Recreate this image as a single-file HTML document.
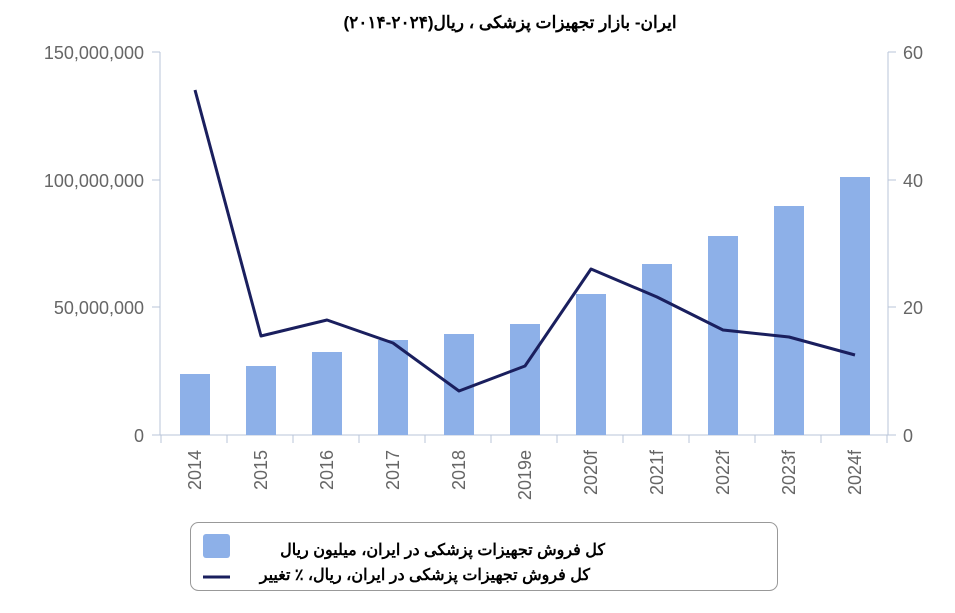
<!DOCTYPE html>
<html><head><meta charset="utf-8"><style>
body{margin:0;background:#fff;width:955px;height:613px;overflow:hidden}
svg{display:block}
</style></head><body>
<svg width="955" height="613" xmlns="http://www.w3.org/2000/svg" font-family="Liberation Sans, DejaVu Sans, sans-serif">
<text x="510" y="28" text-anchor="middle" font-size="17" font-weight="bold" font-family="Liberation Sans, Noto Sans CJK SC, sans-serif" fill="#000">ایران- بازار تجهیزات پزشکی ، ریال(۲۰۲۴-۲۰۱۴)</text>
<g stroke="#b8c4d8" stroke-width="1">
<line x1="160" y1="52" x2="160" y2="435"/>
<line x1="888" y1="52" x2="888" y2="435"/>
<line x1="152" y1="52" x2="160" y2="52"/>
<line x1="152" y1="180" x2="160" y2="180"/>
<line x1="152" y1="307" x2="160" y2="307"/>
<line x1="152" y1="435" x2="888" y2="435"/>
<line x1="888" y1="52" x2="896" y2="52"/>
<line x1="888" y1="180" x2="896" y2="180"/>
<line x1="888" y1="307" x2="896" y2="307"/>
<line x1="888" y1="435" x2="896" y2="435"/>
<line x1="161" y1="435" x2="161" y2="443"/><line x1="227" y1="435" x2="227" y2="443"/><line x1="293" y1="435" x2="293" y2="443"/><line x1="359" y1="435" x2="359" y2="443"/><line x1="425" y1="435" x2="425" y2="443"/><line x1="491" y1="435" x2="491" y2="443"/><line x1="557" y1="435" x2="557" y2="443"/><line x1="623" y1="435" x2="623" y2="443"/><line x1="689" y1="435" x2="689" y2="443"/><line x1="755" y1="435" x2="755" y2="443"/><line x1="821" y1="435" x2="821" y2="443"/><line x1="887" y1="435" x2="887" y2="443"/>
</g>
<g font-size="18" fill="#666" text-anchor="end">
<text x="144" y="59">150,000,000</text>
<text x="144" y="187">100,000,000</text>
<text x="144" y="314">50,000,000</text>
<text x="144" y="442">0</text>
</g>
<g font-size="18" fill="#666">
<text x="903" y="59">60</text>
<text x="903" y="187">40</text>
<text x="903" y="314">20</text>
<text x="903" y="442">0</text>
</g>
<g fill="#8db0e8">
<rect x="180" y="374" width="30" height="61"/>
<rect x="246" y="366" width="30" height="69"/>
<rect x="312" y="352" width="30" height="83"/>
<rect x="378" y="340" width="30" height="95"/>
<rect x="444" y="334" width="30" height="101"/>
<rect x="510" y="324" width="30" height="111"/>
<rect x="576" y="294" width="30" height="141"/>
<rect x="642" y="264" width="30" height="171"/>
<rect x="708" y="236" width="30" height="199"/>
<rect x="774" y="206" width="30" height="229"/>
<rect x="840" y="177" width="30" height="258"/>
</g>
<polyline fill="none" stroke="#1a1f5e" stroke-width="3" stroke-linejoin="round" points="195,90 261,336 327,320 393,343 459,391 525,366 591,269 657,297 723,330 789,337 855,355"/>
<g font-size="18" fill="#666" text-anchor="end">
<text transform="translate(201,450) rotate(-90)">2014</text>
<text transform="translate(267,450) rotate(-90)">2015</text>
<text transform="translate(333,450) rotate(-90)">2016</text>
<text transform="translate(399,450) rotate(-90)">2017</text>
<text transform="translate(465,450) rotate(-90)">2018</text>
<text transform="translate(531,450) rotate(-90)">2019e</text>
<text transform="translate(597,450) rotate(-90)">2020f</text>
<text transform="translate(663,450) rotate(-90)">2021f</text>
<text transform="translate(729,450) rotate(-90)">2022f</text>
<text transform="translate(795,450) rotate(-90)">2023f</text>
<text transform="translate(861,450) rotate(-90)">2024f</text>
</g>
<rect x="190.5" y="522.5" width="587" height="68" rx="8" fill="#fff" stroke="#999"/>
<rect x="203" y="534" width="27" height="24" rx="3" fill="#8db0e8"/>
<line x1="203" y1="577" x2="230" y2="577" stroke="#1a1f5e" stroke-width="3"/>
<g font-size="16" font-weight="bold" fill="#000" text-anchor="end" font-family="Liberation Sans, Noto Sans CJK SC, sans-serif">
<text x="605" y="555">کل فروش تجهیزات پزشکی در ایران، میلیون ریال</text>
<text x="590" y="580">کل فروش تجهیزات پزشکی در ایران، ریال، ٪ تغییر</text>
</g>
</svg>
</body></html>
